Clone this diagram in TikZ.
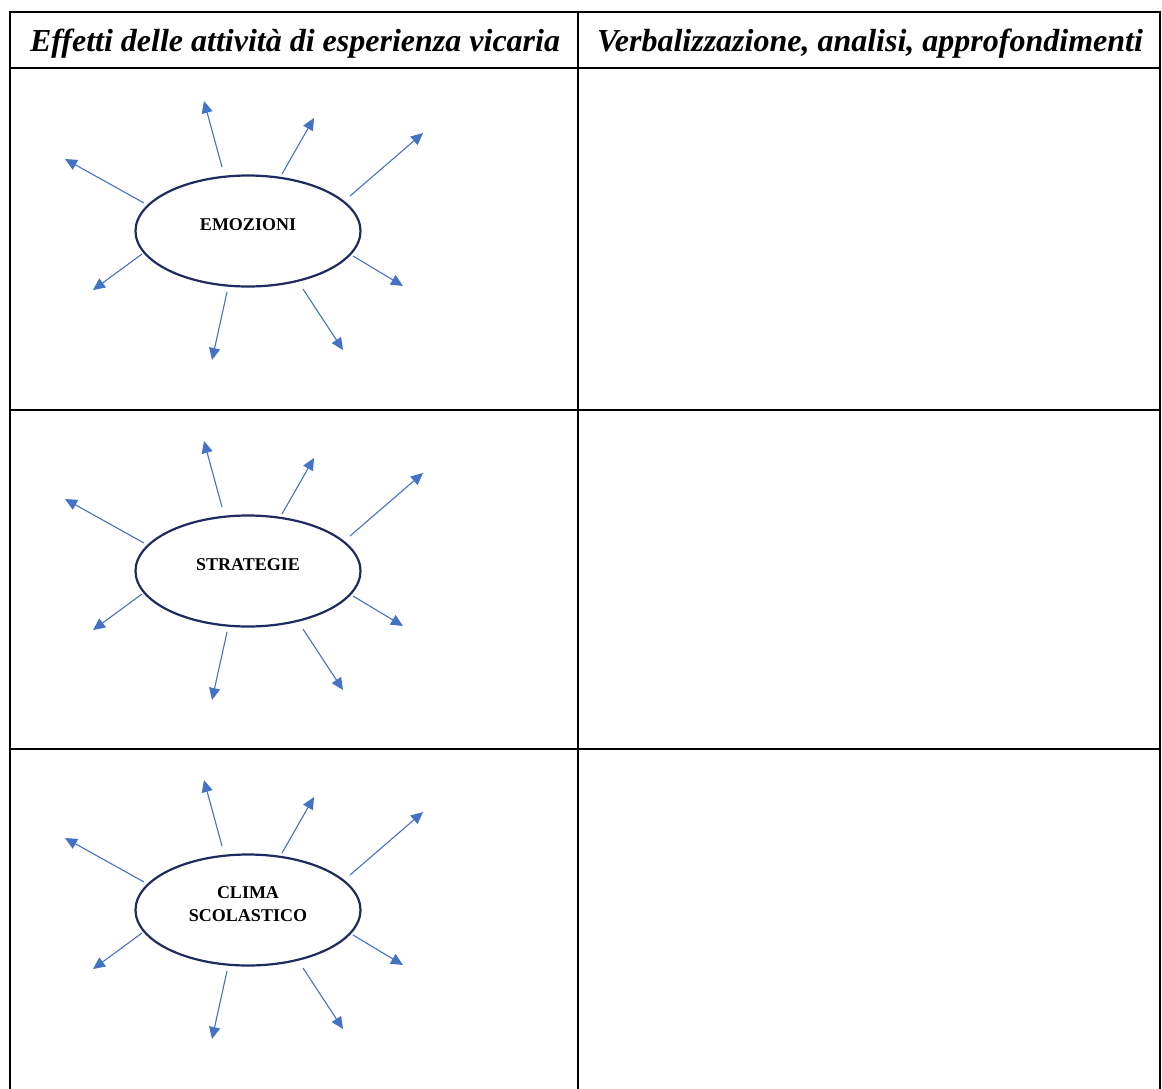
\documentclass[tikz,border=0pt]{standalone}
\usepackage{fontspec}
\setmainfont{Liberation Serif}
\usetikzlibrary{shapes.geometric,arrows.meta}
\definecolor{rayblue}{HTML}{4472C4}
\definecolor{rimnavy}{HTML}{1F2A5E}
\begin{document}
\begin{tikzpicture}[x=1pt,y=-1pt,
  frame/.style={line width=2.6pt,black},
  rule/.style={line width=1.8pt,black},
  divider/.style={line width=1.2pt,black},
  headtext/.style={font=\fontsize{32}{36}\selectfont\bfseries\itshape,anchor=center},
  hub/.style={ellipse,draw=rimnavy,line width=2.2pt,minimum width=225pt,minimum height=111pt,
    inner sep=0pt},
  hublabel/.style={align=center,font=\fontsize{18}{22.5}\selectfont\bfseries},
  ray/.style={rayblue,line width=1.1pt,-{Triangle[length=12pt,width=11pt]}}]
  \useasboundingbox (0,0) rectangle (1162,1088);
  % table grid
  \coordinate (tl) at (10,12);
  \coordinate (tr) at (1160,12);
  \coordinate (bl) at (10,1090);
  \coordinate (br) at (1160,1090);
  \coordinate (mt) at (578,12);
  \coordinate (mb) at (578,1090);
  \draw[frame] (bl) -- (tl) -- (tr) -- (br);
  \draw[divider] (mt) -- (mb);
  \foreach \y in {68,410,749} {
    \draw[rule] (10,\y) -- (1160,\y);
  }
  % header
  \node[headtext] (h1) at (295,44) {Effetti delle attività di esperienza vicaria};
  \node[headtext] (h2) at (870,44) {Verbalizzazione, analisi, approfondimenti};
  % hubs with their rays
  \foreach \n/\cy/\txt in {1/231/EMOZIONI, 2/571/STRATEGIE, 3/910/{CLIMA\\SCOLASTICO}} {
    \node[hub] (hub\n) at (248,\cy) {};
    \node[hublabel] (lab\n) at (248,\cy-6) {\txt};
    \begin{scope}[shift={(hub\n.center)}]
      \foreach \i/\sx/\sy/\tx/\ty in {
          1/-104/-28/-183/-72,
          2/-26/-64/-44/-130,
          3/34/-57/66/-113,
          4/102/-35/175/-98,
          5/105/25/155/55,
          6/55/58/95/119,
          7/-21/61/-36/129,
          8/-106/23/-155/59} {
        \coordinate (s\n-\i) at (\sx,\sy);
        \coordinate (t\n-\i) at (\tx,\ty);
        \draw[ray] (s\n-\i) -- (t\n-\i);
      }
    \end{scope}
  }
\end{tikzpicture}
\end{document}
